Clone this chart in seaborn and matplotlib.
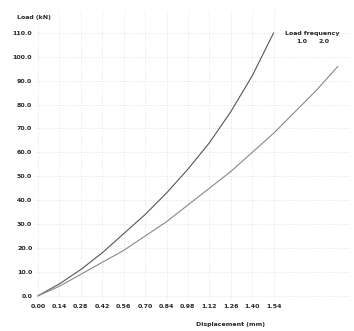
import numpy as np
import pandas as pd
import matplotlib
matplotlib.use("Agg")
import matplotlib.pyplot as plt
import seaborn as sns

# ---------------------- DATA ----------------------
disp_a = [0.00, 0.14, 0.28, 0.42, 0.56, 0.70, 0.84, 0.98, 1.12, 1.26, 1.40, 1.54]
load_a = [0.0, 5.0, 11.0, 18.0, 26.0, 34.0, 43.0, 53.0, 64.0, 77.0, 92.0, 110.0]

disp_b = [0.00, 0.14, 0.28, 0.42, 0.56, 0.70, 0.84, 0.98, 1.12, 1.26, 1.40, 1.54,
          1.68, 1.82, 1.96]
load_b = [0.0, 4.0, 9.0, 14.0, 19.0, 25.0, 31.0, 38.0, 45.0, 52.0, 60.0, 68.0,
          77.0, 86.0, 96.0]

freq_labels = ["1.0", "2.0"]

x_ticks = [0.00, 0.14, 0.28, 0.42, 0.56, 0.70, 0.84, 0.98, 1.12, 1.26, 1.40, 1.54]
y_ticks = [0, 10, 20, 30, 40, 50, 60, 70, 80, 90, 100, 110]

df = pd.concat([
    pd.DataFrame({"Displacement": disp_a, "Load": load_a, "freq": freq_labels[0]}),
    pd.DataFrame({"Displacement": disp_b, "Load": load_b, "freq": freq_labels[1]}),
])

# ---------------------- PLOT ----------------------
sns.set_style("whitegrid")
plt.rcParams['font.family'] = ['DejaVu Sans']

fig, ax = plt.subplots(figsize=(3.54, 3.31), dpi=100)
sns.lineplot(data=df, x="Displacement", y="Load", hue="freq",
             palette=["#555555", "#888888"], linewidth=0.8, ax=ax)

ax.set_xlim(-0.01, 2.04)
ax.set_ylim(-1.7, 119.6)
ax.set_xticks(x_ticks)
ax.set_xticklabels([f"{t:.2f}" for t in x_ticks], fontsize=4.5, fontweight="bold")
ax.set_yticks(y_ticks)
ax.set_yticklabels([f"{t:.1f}" for t in y_ticks], fontsize=4.5, fontweight="bold")
ax.tick_params(length=0, pad=3)
ax.grid(color="#dddddd", linestyle=":", linewidth=0.6)
for s in ax.spines.values():
    s.set_visible(False)

ax.set_ylabel("")
ax.set_xlabel("Displacement (mm)", fontsize=4.5, fontweight="bold")
ax.xaxis.set_label_coords(0.62, -0.075)
fig.text(17 / 354, 1 - 17 / 331, "Load (kN)", fontsize=4.5,
         fontweight="bold", ha="left", va="center")

leg = ax.legend(title="Load frequency", ncol=2, frameon=False, fontsize=4.5,
                title_fontsize=4.5, loc="upper right",
                bbox_to_anchor=(345 / 354, 1 - 25 / 331),
                bbox_transform=fig.transFigure,
                handlelength=0, handletextpad=0.2, columnspacing=1.5)
leg.get_title().set_fontweight("bold")
for t in leg.get_texts():
    t.set_fontweight("bold")
for h in leg.legend_handles:
    h.set_visible(False)

fig.subplots_adjust(left=0.103, right=0.989, top=0.97, bottom=0.094)
fig.savefig("out.png", dpi=100)
